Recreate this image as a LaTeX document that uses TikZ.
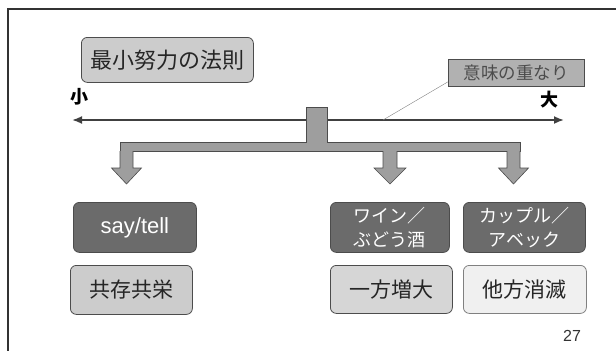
\documentclass[tikz,border=0pt]{standalone}
\usepackage{fontspec}
\setmainfont{Liberation Sans}
\newfontfamily\jp{Noto Sans CJK JP}
\usetikzlibrary{arrows.meta}
\definecolor{darkbox}{gray}{0.42}
\definecolor{lightbox}{gray}{0.80}
\definecolor{palebox}{gray}{0.90}
\definecolor{midbox}{gray}{0.62}
\definecolor{edge}{gray}{0.30}
\begin{document}
\begin{tikzpicture}[x=1pt,y=-1pt,
  box/.style={draw=edge,line width=0.8pt,rounded corners=6pt,inner sep=0pt,anchor=north west},
  darkb/.style={box,fill=darkbox,text=white},
  lightb/.style={box,fill=lightbox,text=black!85},
  paleb/.style={box,fill=palebox!60,draw=gray,text=black!85},
  blockarrow/.style={fill=midbox,draw=edge,line width=0.6pt}
]
\useasboundingbox (0,0) rectangle (616,351);
% frame
\draw[line width=2pt,black!80] (616,9) -- (8,9) -- (8,351);

% title
\node[lightb,minimum width=172pt,minimum height=45pt,font=\jp\fontsize{22}{24}\selectfont] (title) at (81,37) {最小努力の法則};

% axis labels
\node[font=\jp\bfseries\fontsize{18}{20}\selectfont] (small) at (79,97) {小};
\node[font=\jp\bfseries\fontsize{18}{20}\selectfont] (large) at (549,100) {大};

% axis arrow
\coordinate (axL) at (72,120);
\coordinate (axR) at (564,120);
\draw[line width=1.8pt,black!75,{Latex[length=10pt,width=8pt]}-{Latex[length=10pt,width=8pt]}] (axL) -- (axR);

% overlap label
\node[box,rounded corners=0pt,fill=midbox!80,draw=edge,minimum width=136pt,minimum height=27pt,text=black!70,font=\jp\fontsize{17.5}{19}\selectfont] (overlap) at (448,59) {意味の重なり};
\coordinate (ovpt) at (383,120);
\draw[gray,line width=0.4pt] (overlap.south west) ++(0,-5) -- (ovpt);

% central connector (box + bar)
\node[draw=edge,fill=midbox,line width=0.6pt,minimum width=21pt,minimum height=36pt,inner sep=0pt,anchor=north west] (center) at (306,107) {};
\draw[blockarrow] (120,142) rectangle (520,151);
\fill[midbox] (306.5,141) rectangle (326.5,143);

% down block arrows
\newcommand{\downarrowshape}[3]{% center x, shaft half width, head half width
  \draw[blockarrow] (#1-#2,151) -- (#1-#2,168) -- (#1-#3,168) -- (#1,184) -- (#1+#3,168) -- (#1+#2,168) -- (#1+#2,151);
}
\downarrowshape{126.5}{6.5}{15}
\downarrowshape{390}{7}{16}
\downarrowshape{513.5}{6.5}{15}
\coordinate (tipA) at (126.5,184);
\coordinate (tipB) at (390,184);
\coordinate (tipC) at (513.5,184);

% second row boxes
\node[darkb,minimum width=123pt,minimum height=50pt,font=\fontsize{22}{24}\selectfont] (say) at (73,202) {say/tell};
\node[darkb,minimum width=119pt,minimum height=50pt,align=center,font=\jp\fontsize{18}{24}\selectfont] (wine) at (330,202) {ワイン／\\ぶどう酒};
\node[darkb,minimum width=122pt,minimum height=50pt,align=center,font=\jp\fontsize{18}{24}\selectfont] (couple) at (463,202) {カップル／\\アベック};

% third row boxes
\node[lightb,minimum width=122pt,minimum height=49pt,font=\jp\fontsize{21}{24}\selectfont] (coexist) at (70,265) {共存共栄};
\node[lightb,fill=lightbox!80,minimum width=122pt,minimum height=48pt,font=\jp\fontsize{21}{24}\selectfont] (increase) at (330,265) {一方増大};
\node[paleb,minimum width=123pt,minimum height=48pt,font=\jp\fontsize{21}{24}\selectfont] (vanish) at (463,265) {他方消滅};

% page number
\node[font=\fontsize{16}{18}\selectfont,text=black!80] (page) at (572,336) {27};
\end{tikzpicture}
\end{document}
